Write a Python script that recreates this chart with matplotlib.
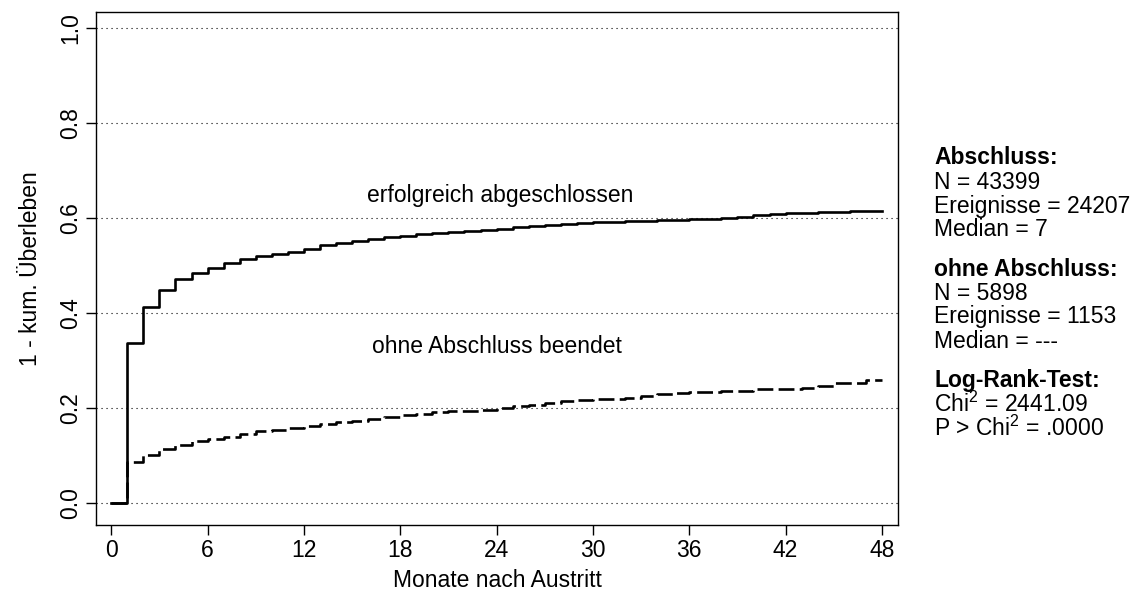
import matplotlib

matplotlib.use("Agg")
import matplotlib.pyplot as plt
import numpy as np

plt.rcParams["font.family"] = ["Liberation Sans", "DejaVu Sans"]
plt.rcParams["mathtext.fontset"] = "custom"
plt.rcParams["mathtext.rm"] = "Liberation Sans"

# months after exit, 0..48
months = np.arange(0, 49)

# 1 - cumulative survival, successfully completed
success = [
    0.0, 0.337, 0.413, 0.448, 0.471, 0.485, 0.495, 0.505, 0.513, 0.520,
    0.525, 0.529, 0.535, 0.543, 0.547, 0.552, 0.556, 0.560, 0.563, 0.566,
    0.568, 0.570, 0.573, 0.575, 0.578, 0.582, 0.584, 0.586, 0.588, 0.589,
    0.591, 0.592, 0.593, 0.594, 0.596, 0.597, 0.598, 0.598, 0.600, 0.603,
    0.606, 0.609, 0.610, 0.611, 0.612, 0.613, 0.615, 0.615, 0.615,
]

# 1 - cumulative survival, ended without completion
dropout = [
    0.0, 0.086, 0.102, 0.113, 0.122, 0.130, 0.135, 0.140, 0.146, 0.151,
    0.154, 0.159, 0.163, 0.167, 0.170, 0.173, 0.177, 0.182, 0.185, 0.188,
    0.191, 0.193, 0.195, 0.197, 0.200, 0.204, 0.207, 0.211, 0.215, 0.217,
    0.219, 0.220, 0.222, 0.226, 0.229, 0.232, 0.233, 0.235, 0.236, 0.237,
    0.240, 0.240, 0.241, 0.242, 0.247, 0.252, 0.253, 0.259, 0.259,
]

x_ticks = [0, 6, 12, 18, 24, 30, 36, 42, 48]
y_ticks = [0.0, 0.2, 0.4, 0.6, 0.8, 1.0]

stats_groups = [
    ["Abschluss:", "N = 43399", "Ereignisse = 24207", "Median = 7"],
    ["ohne Abschluss:", "N = 5898", "Ereignisse = 1153", "Median = ---"],
    ["Log-Rank-Test:", "Chi$^2$ = 2441.09", "P > Chi$^2$ = .0000"],
]

FS = 16.5

fig = plt.figure(figsize=(11.44, 5.97), dpi=100)
ax = fig.add_axes([96 / 1144, 1 - 525 / 597, (898 - 96) / 1144, (525 - 12) / 597])

for y in y_ticks:
    ax.axhline(y, color="black", lw=0.8, linestyle=(0, (1, 3.5)), zorder=1)

ax.step(months, success, where="post", color="black", lw=1.9, zorder=3)
ax.step(months, dropout, where="post", color="black", lw=1.9,
        linestyle=(0, (6, 2)), zorder=3)

ax.text(24.2, 0.648, "erfolgreich abgeschlossen", ha="center", va="center", fontsize=FS)
ax.text(24.0, 0.33, "ohne Abschluss beendet", ha="center", va="center", fontsize=FS)

ax.set_xlim(-0.95, 49.0)
ax.set_ylim(-0.046, 1.034)
ax.set_xticks(x_ticks)
ax.set_yticks(y_ticks)
ax.set_yticklabels([f"{v:.1f}" for v in y_ticks], rotation=90, va="center")
ax.tick_params(direction="out", length=7, width=1, labelsize=FS, pad=3)
for s in ax.spines.values():
    s.set_linewidth(1.0)

ax.set_xlabel("Monate nach Austritt", fontsize=FS, labelpad=5)
ax.set_ylabel("1 - kum. Überleben", fontsize=FS, labelpad=12)

# right-hand summary block
line_h = 24
group_gap = 39
y_px = 158
for g in stats_groups:
    for j, txt in enumerate(g):
        fig.text(934 / 1144, 1 - y_px / 597, txt, fontsize=FS,
                 fontweight="bold" if j == 0 else "normal",
                 ha="left", va="center")
        y_px += line_h
    y_px += group_gap - line_h

fig.savefig("out.png", dpi=100)
